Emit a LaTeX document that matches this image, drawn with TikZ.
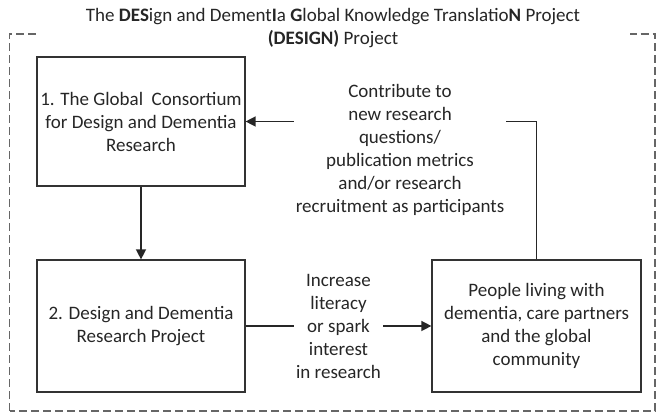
\documentclass[tikz,border=0pt]{standalone}
\usepackage{fontspec}
\setmainfont{Carlito}
\usetikzlibrary{arrows.meta}

\begin{document}
\begin{tikzpicture}[x=1pt, y=1pt, font=\fontsize{19}{23}\selectfont, text=black!85,
box/.style={draw=black!80, line width=1.2pt, minimum width=208pt, align=center, inner sep=0pt},
lbl/.style={fill=white, align=center, inner sep=2pt},
link/.style={draw=black!85, line width=1.4pt, -{Triangle[length=10pt,width=10pt]}}]
\useasboundingbox (0,0) rectangle (664,417);
\draw[black!60, line width=1.5pt, dash pattern=on 8pt off 4pt] (9.5,6) rectangle (655,383);
\node[fill=white, align=center, minimum width=594pt, minimum height=57pt, inner sep=0pt] (title) at (333,388.5)
    {The \textbf{DES}ign and Dement\textbf{I}a \textbf{G}lobal Knowledge Translatio\textbf{N} Project\\
     \textbf{(DESIGN)} Project};
\node[box, minimum height=129pt] (1) at (141,295.5) {1. The Global\ \ Consortium\\for Design and Dementia\\Research};
\node[box, minimum height=132pt] (2) at (141,91) {2. Design and Dementia\\Research Project};
\node[box, minimum height=132pt, minimum width=209pt] (3) at (536.5,91)
    {People living with\\dementia, care partners\\and the global\\community};
\draw[link] (1) -- (2);
\draw[link] (2) -- node[lbl] (increase) {Increase\\literacy\\or spark\\interest\\in research} (3);
\draw[link] (3.north) |- (1.east);
\node[lbl] (feedback) at (400,267.5)
    {Contribute to\\new research\\questions/\\publication metrics\\and/or research\\recruitment as participants};
\end{tikzpicture}
\end{document}
